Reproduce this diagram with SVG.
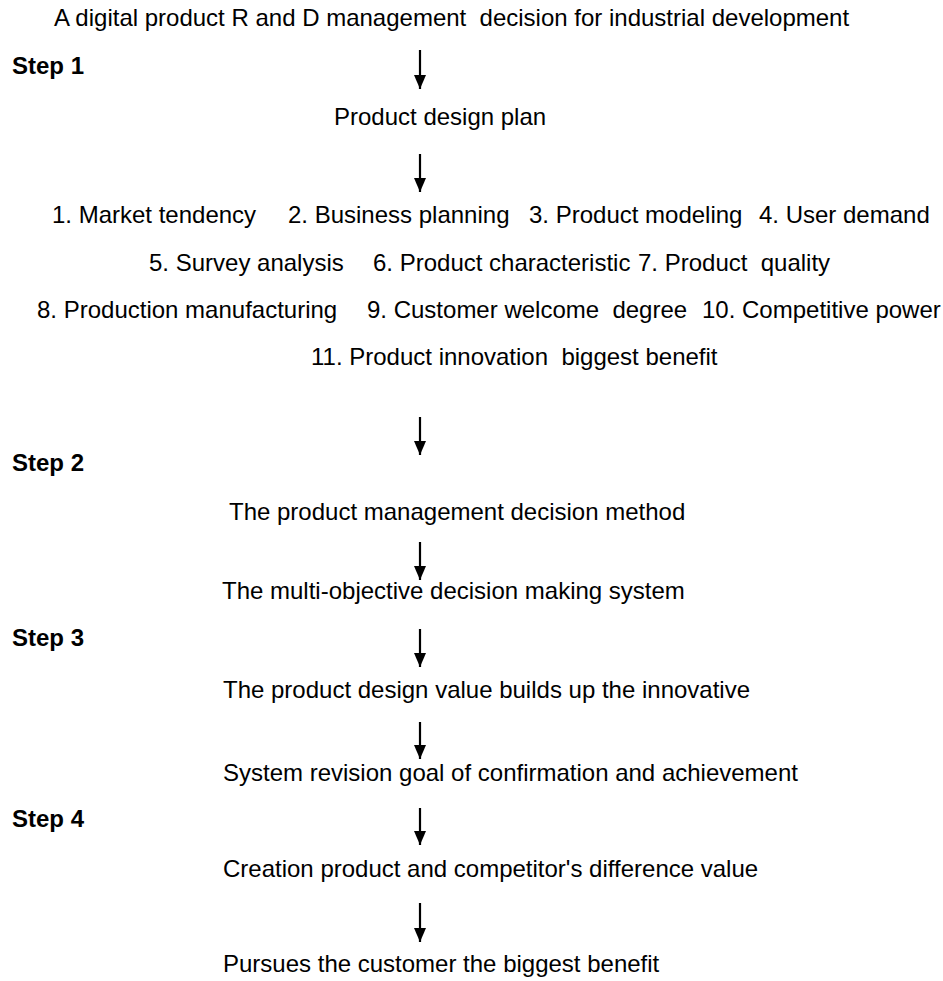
<svg xmlns="http://www.w3.org/2000/svg" width="943" height="981" viewBox="0 0 943 981">
<style>
text{font-family:"Liberation Sans",Arial,sans-serif;font-size:24px;fill:#000;white-space:pre}
.step{font-weight:bold}
.arr{stroke:#000;stroke-width:2.2;fill:none}
</style>
<defs>
<marker id="ah" viewBox="0 0 14 12" refX="14" refY="6" markerWidth="14" markerHeight="12" markerUnits="userSpaceOnUse" orient="auto">
<path d="M0,0 L14,6 L0,12 Z" fill="#000"/>
</marker>
</defs>
<rect width="943" height="981" fill="#fff"/>
<g id="title"><text x="54" y="26" xml:space="preserve">A digital product R and D management  decision for industrial development</text></g>
<g id="step1"><text class="step" x="12" y="74">Step 1</text></g>
<g id="plan"><text x="334" y="125">Product design plan</text></g>
<g id="items">
<text x="52" y="223">1. Market tendency</text>
<text x="288" y="223">2. Business planning</text>
<text x="529" y="223">3. Product modeling</text>
<text x="759" y="223">4. User demand</text>
<text x="149" y="271">5. Survey analysis</text>
<text x="373" y="271">6. Product characteristic</text>
<text x="638" y="271" xml:space="preserve">7. Product  quality</text>
<text x="37" y="318">8. Production manufacturing</text>
<text x="367" y="318" xml:space="preserve">9. Customer welcome  degree</text>
<text x="702" y="318">10. Competitive power</text>
<text x="311" y="365" xml:space="preserve">11. Product innovation  biggest benefit</text>
</g>
<g id="step2"><text class="step" x="12" y="471">Step 2</text></g>
<g id="method"><text x="229" y="520">The product management decision method</text></g>
<g id="mods"><text x="222" y="599">The multi-objective decision making system</text></g>
<g id="step3"><text class="step" x="12" y="646">Step 3</text></g>
<g id="value"><text x="223" y="698">The product design value builds up the innovative</text></g>
<g id="revision"><text x="223" y="781">System revision goal of confirmation and achievement</text></g>
<g id="step4"><text class="step" x="12" y="827">Step 4</text></g>
<g id="creation"><text x="223" y="877">Creation product and competitor's difference value</text></g>
<g id="pursue"><text x="223" y="972">Pursues the customer the biggest benefit</text></g>
<g id="connectors">
<line class="arr" x1="420" y1="50" x2="420" y2="89" marker-end="url(#ah)"/>
<line class="arr" x1="420" y1="154" x2="420" y2="192" marker-end="url(#ah)"/>
<line class="arr" x1="420" y1="417" x2="420" y2="455" marker-end="url(#ah)"/>
<line class="arr" x1="420" y1="542" x2="420" y2="580" marker-end="url(#ah)"/>
<line class="arr" x1="420" y1="629" x2="420" y2="667" marker-end="url(#ah)"/>
<line class="arr" x1="420" y1="722" x2="420" y2="759" marker-end="url(#ah)"/>
<line class="arr" x1="420" y1="808" x2="420" y2="845" marker-end="url(#ah)"/>
<line class="arr" x1="420" y1="903" x2="420" y2="942" marker-end="url(#ah)"/>
</g>
</svg>
